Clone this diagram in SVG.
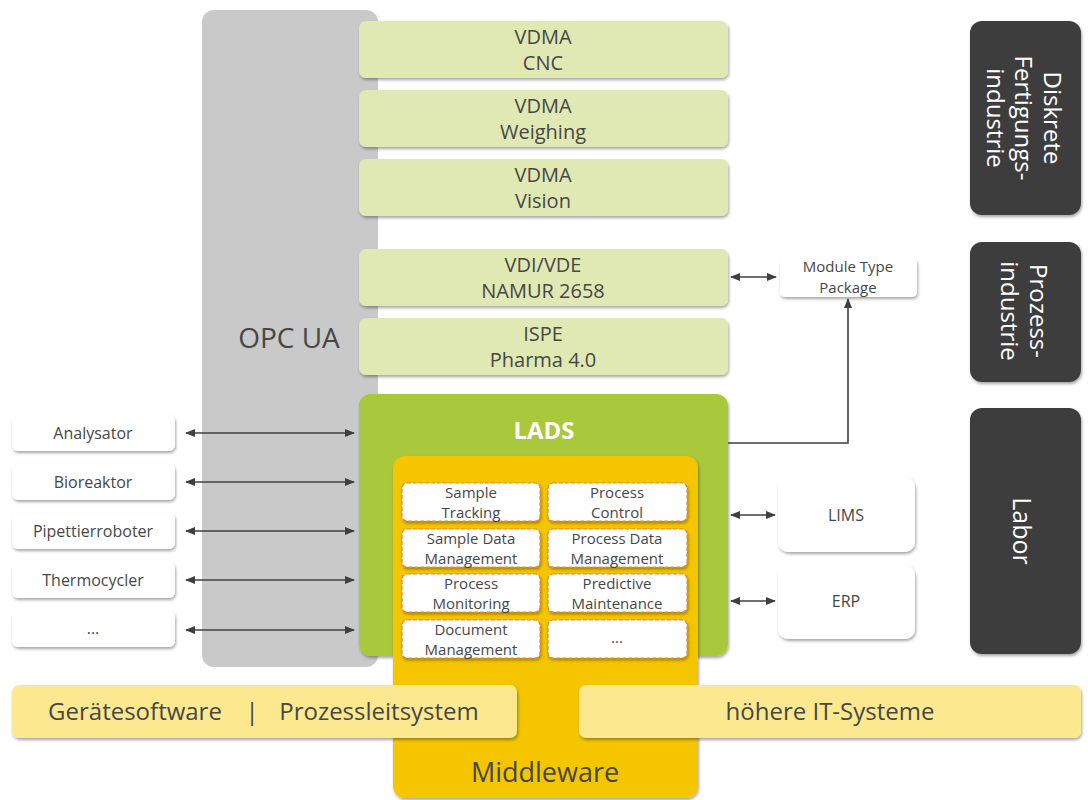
<svg xmlns="http://www.w3.org/2000/svg" width="1088" height="800" viewBox="0 0 1088 800">
<defs>
<filter id="sh" x="-10%" y="-10%" width="130%" height="140%">
<feDropShadow dx="1" dy="2" stdDeviation="1.5" flood-color="#000" flood-opacity="0.35"/>
</filter>
<marker id="ah" viewBox="0 0 10 8" refX="9" refY="4" markerWidth="10" markerHeight="8" markerUnits="userSpaceOnUse" orient="auto-start-reverse">
<path d="M0,0 L10,4 L0,8 Z" fill="#3f3f3f"/>
</marker>
<style>
text{font-family:"Open Sans","Noto Sans","Liberation Sans",sans-serif;fill:#474747;text-anchor:middle}
.opc{fill:#c9c9c9}
.lg{fill:#e0e9b3;filter:url(#sh)}
.wh{fill:#ffffff;filter:url(#sh)}
.dk{fill:#3d3d3d;filter:url(#sh)}
.yl{fill:#fce98f;filter:url(#sh)}
.in{fill:#ffffff;stroke:#e8843c;stroke-width:1.2;stroke-dasharray:4 2;filter:url(#sh)}
.t20{font-size:20px}
.t16{font-size:16px}
.t15{font-size:15px}
.t24{font-size:24px}
.wt{fill:#ffffff;font-size:24px}
.cn{stroke:#3f3f3f;stroke-width:1.6;fill:none}
</style>
</defs>

<g id="opcua">
<rect class="opc" x="202" y="10" width="176" height="657" rx="12"/>
<text x="289" y="348" style="font-size:28px">OPC UA</text>
</g>

<g id="vdma-cnc">
<rect class="lg" x="359" y="21" width="369" height="57" rx="7"/>
<text class="t20" x="543" y="44">VDMA<tspan x="543" dy="26">CNC</tspan></text>
</g>
<g id="vdma-weighing">
<rect class="lg" x="359" y="90" width="369" height="57" rx="7"/>
<text class="t20" x="543" y="113">VDMA<tspan x="543" dy="26">Weighing</tspan></text>
</g>
<g id="vdma-vision">
<rect class="lg" x="359" y="159" width="369" height="57" rx="7"/>
<text class="t20" x="543" y="182">VDMA<tspan x="543" dy="26">Vision</tspan></text>
</g>
<g id="namur">
<rect class="lg" x="359" y="249" width="369" height="57" rx="7"/>
<text class="t20" x="543" y="272">VDI/VDE<tspan x="543" dy="26">NAMUR 2658</tspan></text>
</g>
<g id="ispe">
<rect class="lg" x="359" y="318" width="369" height="57" rx="7"/>
<text class="t20" x="543" y="341">ISPE<tspan x="543" dy="26">Pharma 4.0</tspan></text>
</g>

<g id="lads">
<rect x="359" y="394" width="369" height="262" rx="12" fill="#a9c83a" filter="url(#sh)"/>
<text x="544" y="439" style="font-size:24px;font-weight:bold;fill:#ffffff">LADS</text>
</g>

<g id="middleware">
<rect x="393" y="456" width="305" height="342" rx="12" fill="#f5c500" filter="url(#sh)"/>
<text x="545" y="782" style="font-size:27px">Middleware</text>
</g>

<g id="sample-tracking">
<rect class="in" x="402" y="483" width="138" height="38" rx="5"/>
<text class="t15" x="471" y="497.5">Sample<tspan x="471" dy="20.5">Tracking</tspan></text>
</g>
<g id="process-control">
<rect class="in" x="548" y="483" width="139" height="38" rx="5"/>
<text class="t15" x="617" y="497.5">Process<tspan x="617" dy="20.5">Control</tspan></text>
</g>
<g id="sample-data">
<rect class="in" x="402" y="529" width="138" height="38" rx="5"/>
<text class="t15" x="471" y="543.5">Sample Data<tspan x="471" dy="20.5">Management</tspan></text>
</g>
<g id="process-data">
<rect class="in" x="548" y="529" width="139" height="38" rx="5"/>
<text class="t15" x="617" y="543.5">Process Data<tspan x="617" dy="20.5">Management</tspan></text>
</g>
<g id="process-monitoring">
<rect class="in" x="402" y="574" width="138" height="38" rx="5"/>
<text class="t15" x="471" y="588.5">Process<tspan x="471" dy="20.5">Monitoring</tspan></text>
</g>
<g id="predictive-maintenance">
<rect class="in" x="548" y="574" width="139" height="38" rx="5"/>
<text class="t15" x="617" y="588.5">Predictive<tspan x="617" dy="20.5">Maintenance</tspan></text>
</g>
<g id="document-management">
<rect class="in" x="402" y="620" width="138" height="38" rx="5"/>
<text class="t15" x="471" y="634.5">Document<tspan x="471" dy="20.5">Management</tspan></text>
</g>
<g id="more-functions">
<rect class="in" x="548" y="620" width="139" height="38" rx="5"/>
<text class="t15" x="617" y="643">...</text>
</g>

<g id="analysator">
<rect class="wh" x="12" y="415" width="163" height="36" rx="6"/>
<text class="t16" x="93" y="439">Analysator</text>
</g>
<g id="bioreaktor">
<rect class="wh" x="12" y="464" width="163" height="36" rx="6"/>
<text class="t16" x="93" y="488">Bioreaktor</text>
</g>
<g id="pipettierroboter">
<rect class="wh" x="12" y="513" width="163" height="36" rx="6"/>
<text class="t16" x="93" y="537">Pipettierroboter</text>
</g>
<g id="thermocycler">
<rect class="wh" x="12" y="562" width="163" height="36" rx="6"/>
<text class="t16" x="93" y="586">Thermocycler</text>
</g>
<g id="more-devices">
<rect class="wh" x="12" y="611" width="163" height="36" rx="6"/>
<text class="t16" x="93" y="634">...</text>
</g>

<g id="mtp">
<rect class="wh" x="780" y="258" width="137" height="39" rx="5"/>
<text class="t15" x="848" y="272">Module Type<tspan x="848" dy="20.5">Package</tspan></text>
</g>
<g id="lims">
<rect class="wh" x="778" y="477" width="137" height="75" rx="10"/>
<text class="t16" x="846" y="521">LIMS</text>
</g>
<g id="erp">
<rect class="wh" x="778" y="565" width="137" height="74" rx="10"/>
<text class="t16" x="846" y="607">ERP</text>
</g>

<g id="diskrete">
<rect class="dk" x="970" y="21" width="111" height="194" rx="12"/>
<text class="wt" transform="translate(1016,118) rotate(90)" x="0" y="-28">Diskrete<tspan x="0" dy="29">Fertigungs-</tspan><tspan x="0" dy="28">industrie</tspan></text>
</g>
<g id="prozessindustrie">
<rect class="dk" x="970" y="242" width="111" height="140" rx="12"/>
<text class="wt" transform="translate(1016,311) rotate(90)" x="0" y="-14">Prozess-<tspan x="0" dy="29">industrie</tspan></text>
</g>
<g id="labor">
<rect class="dk" x="970" y="408" width="111" height="246" rx="12"/>
<text class="wt" transform="translate(1013,531) rotate(90)" x="0" y="0" style="font-size:25px">Labor</text>
</g>

<g id="geraetesoftware">
<rect class="yl" x="12" y="685" width="505" height="53" rx="7"/>
<text class="t24" x="135" y="720">Gerätesoftware</text>
<text class="t24" x="252" y="720">|</text>
<text class="t24" x="379" y="720">Prozessleitsystem</text>
</g>
<g id="it-systeme">
<rect class="yl" x="579" y="685" width="502" height="53" rx="7"/>
<text class="t24" x="830" y="720">höhere IT-Systeme</text>
</g>

<g id="connectors">
<line class="cn" x1="186" y1="433" x2="354" y2="433" marker-start="url(#ah)" marker-end="url(#ah)"/>
<line class="cn" x1="186" y1="482" x2="354" y2="482" marker-start="url(#ah)" marker-end="url(#ah)"/>
<line class="cn" x1="186" y1="531" x2="354" y2="531" marker-start="url(#ah)" marker-end="url(#ah)"/>
<line class="cn" x1="186" y1="580" x2="354" y2="580" marker-start="url(#ah)" marker-end="url(#ah)"/>
<line class="cn" x1="186" y1="630" x2="354" y2="630" marker-start="url(#ah)" marker-end="url(#ah)"/>
<line class="cn" x1="731" y1="277" x2="776" y2="277" marker-start="url(#ah)" marker-end="url(#ah)"/>
<line class="cn" x1="731" y1="515" x2="775" y2="515" marker-start="url(#ah)" marker-end="url(#ah)"/>
<line class="cn" x1="731" y1="601" x2="775" y2="601" marker-start="url(#ah)" marker-end="url(#ah)"/>
<path class="cn" d="M728,443 H848 V299" marker-end="url(#ah)"/>
</g>
</svg>
